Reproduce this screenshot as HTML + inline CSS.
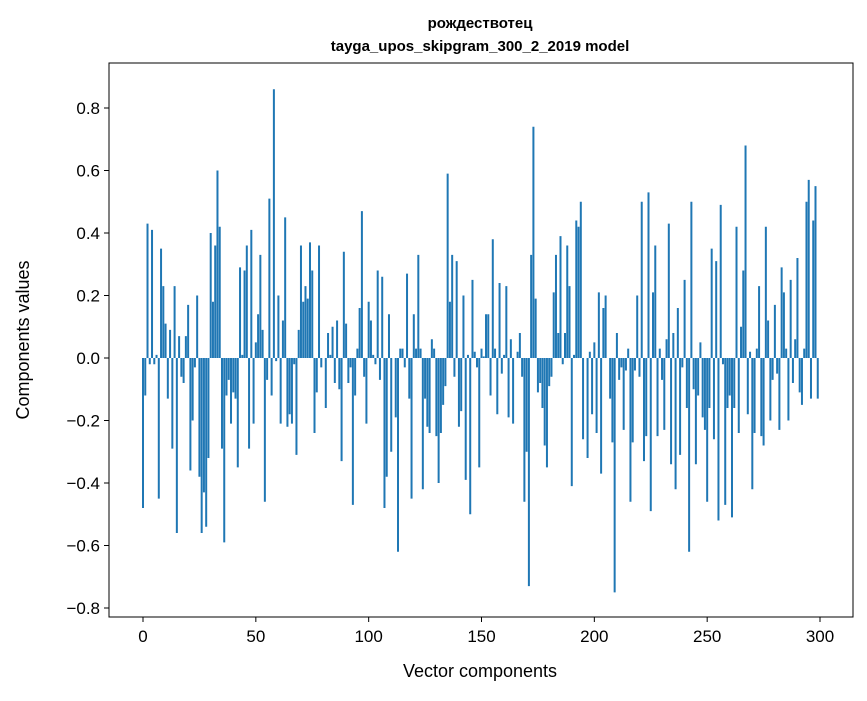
<!DOCTYPE html>
<html><head><meta charset="utf-8"><style>
body{margin:0;background:#fff;}
svg text{font-family:"Liberation Sans","DejaVu Sans",sans-serif;fill:#000;}
</style></head><body>
<svg id="s" width="867" height="696" xmlns="http://www.w3.org/2000/svg">
<rect width="867" height="696" fill="#fff"/>
<g id="bars"></g>
<rect x="109" y="63" width="744" height="554" fill="none" stroke="#000" stroke-width="1"/>
<text x="480" y="28" font-size="15" font-weight="bold" text-anchor="middle">рождествотец</text>
<text x="480" y="51" font-size="15" font-weight="bold" text-anchor="middle">tayga_upos_skipgram_300_2_2019 model</text>
<g id="ticks" font-size="17"></g>
<text x="480" y="677" font-size="18" text-anchor="middle">Vector components</text>
<text transform="translate(29,340) rotate(-90)" font-size="18" text-anchor="middle">Components values</text>
</svg>
<script>
var v=[-0.48,-0.12,0.43,-0.02,0.41,-0.02,0.01,-0.45,0.35,0.23,0.11,-0.13,0.09,-0.29,0.23,-0.56,0.07,-0.06,-0.08,0.07,0.17,-0.36,-0.20,-0.03,0.20,-0.38,-0.56,-0.43,-0.54,-0.32,0.40,0.18,0.36,0.60,0.42,-0.29,-0.59,-0.12,-0.07,-0.21,-0.11,-0.13,-0.35,0.29,0.01,0.28,0.36,-0.29,0.41,-0.21,0.05,0.14,0.33,0.09,-0.46,-0.07,0.51,-0.12,0.86,-0.01,0.20,-0.21,0.12,0.45,-0.22,-0.18,-0.21,-0.02,-0.31,0.09,0.36,0.18,0.23,0.19,0.37,0.28,
-0.24,-0.11,0.36,-0.03,0.00,-0.16,0.08,0.01,0.10,-0.08,0.12,-0.10,-0.33,0.34,0.11,-0.08,-0.03,-0.47,-0.12,0.03,0.16,0.47,-0.06,-0.21,0.18,0.12,0.01,-0.02,0.28,-0.07,0.26,-0.48,-0.38,0.14,-0.30,0,-0.19,-0.62,0.03,0.03,-0.03,0.27,-0.13,-0.45,0.14,0.03,0.33,0.03,-0.42,-0.13,-0.22,-0.24,0.06,0.03,-0.25,-0.40,-0.24,-0.15,-0.09,0.59,0.18,0.33,-0.06,0.31,-0.22,-0.17,0.20,-0.39,0.01,-0.50,0.25,0.02,-0.03,-0.35,
0.03,0.005,0.14,0.14,-0.12,0.38,0.03,-0.18,0.24,-0.05,0.01,0.23,-0.19,0.06,-0.21,0,0.02,0.08,-0.06,-0.46,-0.30,-0.73,0.33,0.74,0.19,-0.11,-0.08,-0.16,-0.28,-0.35,-0.09,-0.06,0.21,0.33,0.08,0.39,-0.02,0.08,0.36,0.23,-0.41,0.01,0.44,0.42,0.50,-0.26,0,-0.32,0.02,-0.18,0.05,-0.24,0.21,-0.37,0.16,0.20,0,-0.13,-0.27,-0.75,0.08,-0.07,-0.03,-0.23,-0.04,0.03,-0.46,-0.27,-0.04,0.20,-0.06,0.50,-0.33,-0.25,0.53,-0.49,
0.21,0.36,-0.25,0.03,-0.07,-0.23,0.06,0.43,-0.34,0.08,-0.42,0.16,-0.31,-0.03,0.25,-0.16,-0.62,0.50,-0.10,-0.34,-0.12,0.05,-0.19,-0.23,-0.46,-0.16,0.35,-0.26,0.31,-0.52,0.49,-0.02,-0.47,-0.16,-0.12,-0.51,-0.16,0.42,-0.24,0.10,0.28,0.68,-0.18,0.02,-0.42,-0.24,0.03,0.23,-0.25,-0.28,0.42,0.12,-0.20,-0.07,0.17,-0.05,-0.23,0.29,0.21,0.03,-0.20,0.25,-0.08,0.06,0.32,-0.11,-0.15,0.03,0.50,0.57,-0.13,0.44,0.55,-0.13];
var ns="http://www.w3.org/2000/svg",g=document.getElementById('bars');
function X(i){return 143+i*2.2567;}function Y(val){return 358-val*312.5;}
for(var i=0;i<v.length&&i<300;i++){var r=document.createElementNS(ns,'rect');var y0=Y(0),y1=Y(v[i]);
r.setAttribute('x',X(i)-1);r.setAttribute('width',2);r.setAttribute('y',Math.min(y0,y1));r.setAttribute('height',Math.abs(y1-y0));r.setAttribute('fill','#1f77b4');g.appendChild(r);}
var t=document.getElementById('ticks'),h='';
for(var k=-4;k<=4;k++){var val=k*0.2,y=Y(val);h+='<line x1="104" x2="109" y1="'+y+'" y2="'+y+'" stroke="#000"/>';
var lab=(val<0?'\u2212':'')+Math.abs(val).toFixed(1);h+='<text x="100" y="'+(y+6)+'" text-anchor="end">'+lab+'</text>';}
for(var j=0;j<=300;j+=50){var x=X(j);h+='<line x1="'+x+'" x2="'+x+'" y1="617" y2="622" stroke="#000"/><text x="'+x+'" y="642" text-anchor="middle">'+j+'</text>';}
t.innerHTML=h;
</script>
</body></html>
